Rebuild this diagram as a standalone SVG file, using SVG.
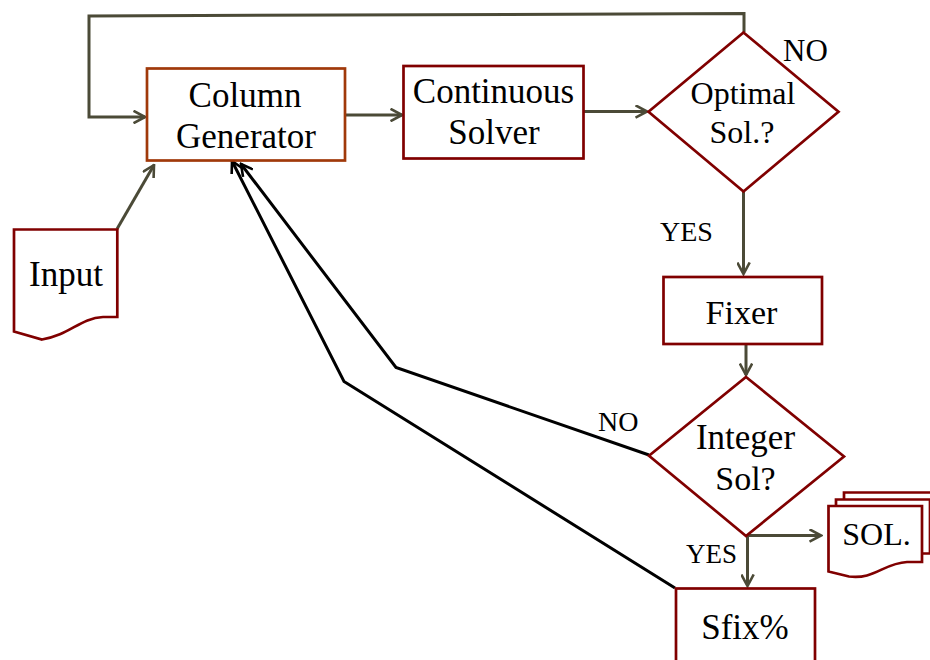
<svg xmlns="http://www.w3.org/2000/svg" width="930" height="660" viewBox="0 0 930 660">
<defs>
<marker id="ah" markerUnits="userSpaceOnUse" viewBox="0 0 14 14" refX="12.5" refY="7" markerWidth="14" markerHeight="14" orient="auto">
<path d="M1,0.8 L12.5,7 L1,13.2" fill="none" stroke="#4b4a37" stroke-width="2.6" stroke-linejoin="miter"/>
</marker>
<marker id="ahk" markerUnits="userSpaceOnUse" viewBox="0 0 14 14" refX="12.5" refY="7" markerWidth="14" markerHeight="14" orient="auto">
<path d="M1,0.8 L12.5,7 L1,13.2" fill="none" stroke="#000" stroke-width="2.6"/>
</marker>
<style>
.box{fill:#fff;stroke:#800000;stroke-width:2.7}
.cg{fill:#fff;stroke:#a0390a;stroke-width:2.7}
.c{fill:none;stroke:#4b4a37;stroke-width:3;marker-end:url(#ah)}
.cn{fill:none;stroke:#4b4a37;stroke-width:3}
.k{fill:none;stroke:#000;stroke-width:3;marker-end:url(#ahk)}
text{font-family:"Liberation Serif","Times New Roman",serif;fill:#000}
.t{font-size:35px;text-anchor:middle}
.l{font-size:28px}
</style>
</defs>
<g id="connectors">
<polyline class="c" points="744,32 744,13.5 89,16 89,117 145,117"/>
<line class="c" x1="345" y1="115" x2="402" y2="115"/>
<line class="c" x1="584" y1="111.5" x2="647" y2="111.5"/>
<line class="c" x1="743.5" y1="192" x2="743.5" y2="274"/>
<line class="c" x1="746" y1="344" x2="746" y2="375"/>
<line class="c" x1="117" y1="229" x2="154" y2="165"/>
<line class="c" x1="747.5" y1="536" x2="747.5" y2="586"/>
<line class="c" x1="746" y1="535.5" x2="821" y2="535.5"/>
<polyline class="k" points="649,455 396,367.5 241,164"/>
<polyline class="k" points="675,588 344,381.5 232,161"/>
<text class="l" x="783" y="61" style="font-size:31px">NO</text>
<text class="l" x="660" y="240.5">YES</text>
<text class="l" x="598" y="431">NO</text>
<text class="l" x="686" y="562.5" style="font-size:27px">YES</text>
</g>
<g id="column-generator">
<rect class="cg" x="147" y="68.5" width="198" height="92"/>
<text class="t" x="245" y="107">Column</text>
<text class="t" x="246" y="147.5">Generator</text>
</g>
<g id="continuous-solver">
<rect class="box" x="403.5" y="66" width="180" height="92.5"/>
<text class="t" x="493.5" y="103">Continuous</text>
<text class="t" x="494" y="144">Solver</text>
</g>
<g id="optimal">
<polygon class="box" points="743.5,32.5 838.5,111.7 743.5,191.5 648.5,111.7"/>
<text class="t" x="743" y="104" style="font-size:32px">Optimal</text>
<text class="t" x="742" y="142.7" style="font-size:32px">Sol.?</text>
</g>
<g id="fixer">
<rect class="box" x="663.5" y="277" width="158.5" height="67"/>
<text class="t" x="741.5" y="324" style="font-size:34px">Fixer</text>
</g>
<g id="integer">
<polygon class="box" points="746,377 844,456.5 746,536 649,455.7"/>
<text class="t" x="745.5" y="449">Integer</text>
<text class="t" x="745.5" y="490" style="font-size:34px">Sol?</text>
</g>
<g id="sfix">
<rect class="box" x="676" y="588.5" width="139" height="120"/>
<text class="t" x="745" y="639">Sfix%</text>
</g>
<g id="input">
<path class="box" d="M14,229.5 L117.3,229.5 L117.3,316.8 L103,317 C80,318 70,335 42,339.5 L14,331.5 Z"/>
<text class="t" x="66" y="286">Input</text>
</g>
<g id="sol">
<path class="box" d="M844,492.5 L940,492.5 L940,548 L844,548 Z"/>
<path class="box" d="M836,499.5 L930,499.5 L930,553.5 L836,553.5 Z"/>
<path class="box" d="M828.5,506 L922,506 L922,561.8 L907,562 C884,563 874,580 849,576.5 L828.5,571.5 Z"/>
<text class="t" x="876.5" y="545" style="font-size:32px">SOL.</text>
</g>
</svg>
